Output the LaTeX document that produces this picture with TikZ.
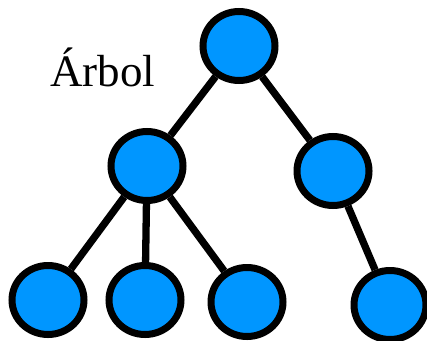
\documentclass[tikz,border=0pt]{standalone}
\usepackage{fontspec}
\setmainfont{Liberation Serif}
\usetikzlibrary{shapes.geometric}
\definecolor{nodeblue}{RGB}{0,150,255}
\tikzset{
  treenode/.style={ellipse, draw=black, fill=nodeblue, line width=7pt, minimum width=72pt, minimum height=69pt, inner sep=0pt},
  treeedge/.style={draw=black, line width=7.3pt}
}
\begin{document}
\begin{tikzpicture}[x=1pt,y=-1pt]
\useasboundingbox (0,0) rectangle (427,340);
\node[treenode] (r) at (239,46) {};
\node[treenode] (a) at (147,166) {};
\node[treenode] (b) at (333,171) {};
\node[treenode] (a1) at (48,300) {};
\node[treenode] (a2) at (145,300) {};
\node[treenode] (a3) at (247,302) {};
\node[treenode] (b1) at (390,305) {};
\draw[treeedge] (r) -- (a);
\draw[treeedge] (r) -- (b);
\draw[treeedge] (a) -- (a1);
\draw[treeedge] (a) -- (a2);
\draw[treeedge] (a) -- (a3);
\draw[treeedge] (b) -- (b1);
\node[anchor=base west, inner sep=0pt, font=\fontsize{45}{45}\selectfont] (t) at (50,86) {Árbol};
\end{tikzpicture}
\end{document}
